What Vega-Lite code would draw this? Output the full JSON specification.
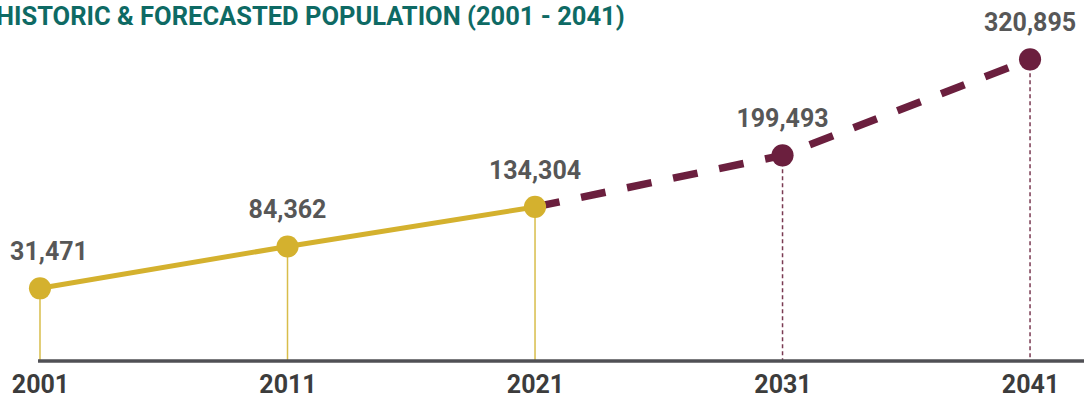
{
  "$schema": "https://vega.github.io/schema/vega-lite/v6.json",
  "autosize": {"type": "none"},
  "padding": {"left": 0, "right": 0, "top": 40, "bottom": 36},
  "width": 1084,
  "height": 321,
  "background": "white",
  "config": {"view": {"stroke": null}, "font": "Roboto"},
  "title": {
    "text": "HISTORIC & FORECASTED POPULATION (2001 - 2041)",
    "anchor": "start",
    "frame": "group",
    "orient": "top",
    "font": "Roboto",
    "fontSize": 25.5,
    "fontWeight": "bold",
    "color": "#0e6a64",
    "baseline": "alphabetic",
    "dx": -4,
    "offset": -39
  },
  "datasets": {
    "points": [
      {"year": 2001, "pop": 31471, "series": "Historic", "label": "31,471"},
      {"year": 2011, "pop": 84362, "series": "Historic", "label": "84,362"},
      {"year": 2021, "pop": 134304, "series": "Historic", "label": "134,304"},
      {"year": 2031, "pop": 199493, "series": "Forecast", "label": "199,493"},
      {"year": 2041, "pop": 320895, "series": "Forecast", "label": "320,895"}
    ],
    "forecastLine": [
      {"year": 2021, "pop": 134304},
      {"year": 2031, "pop": 199493},
      {"year": 2041, "pop": 320895}
    ]
  },
  "layer": [
    {
      "data": {"name": "points"},
      "transform": [{"filter": "datum.series === 'Historic'"}],
      "mark": {"type": "rule", "color": "#d8bd4a", "strokeWidth": 1.5},
      "encoding": {
        "x": {"field": "year", "type": "quantitative", "scale": {"domain": [1999.384, 2043.18], "nice": false, "zero": false}, "axis": {"values": [2001, 2011, 2021, 2031, 2041], "format": "d", "domain": false, "ticks": false, "grid": false, "title": null, "labelFontSize": 25, "labelFontWeight": "bold", "labelColor": "#3c3c3c", "labelFont": "Roboto", "labelPadding": 11}},
        "y": {"field": "pop", "type": "quantitative", "scale": {"domain": [-60413, 345298], "nice": false, "zero": false}, "axis": null},
        "y2": {"datum": -60413}
      }
    },
    {
      "data": {"name": "points"},
      "transform": [{"filter": "datum.series === 'Forecast'"}],
      "mark": {"type": "rule", "color": "#7a3a52", "strokeWidth": 1.5, "strokeDash": [4, 3]},
      "encoding": {
        "x": {"field": "year", "type": "quantitative"},
        "y": {"field": "pop", "type": "quantitative"},
        "y2": {"datum": -60413}
      }
    },
    {
      "data": {"values": [{"start": 2000.92, "end": 2043.18, "base": -60413}]},
      "mark": {"type": "rule", "color": "#505055", "strokeWidth": 3.5},
      "encoding": {
        "x": {"field": "start", "type": "quantitative"},
        "x2": {"field": "end"},
        "y": {"field": "base", "type": "quantitative"}
      }
    },
    {
      "data": {"name": "forecastLine"},
      "mark": {"type": "line", "color": "#6b1f3e", "strokeWidth": 7.5, "strokeDash": [25, 22], "strokeCap": "butt"},
      "encoding": {
        "x": {"field": "year", "type": "quantitative"},
        "y": {"field": "pop", "type": "quantitative"}
      }
    },
    {
      "data": {"name": "points"},
      "transform": [{"filter": "datum.series === 'Historic'"}],
      "mark": {"type": "line", "color": "#d4b12e", "strokeWidth": 5},
      "encoding": {
        "x": {"field": "year", "type": "quantitative"},
        "y": {"field": "pop", "type": "quantitative"}
      }
    },
    {
      "data": {"name": "points"},
      "mark": {"type": "circle", "opacity": 1, "size": 490},
      "encoding": {
        "x": {"field": "year", "type": "quantitative"},
        "y": {"field": "pop", "type": "quantitative"},
        "color": {"field": "series", "type": "nominal", "scale": {"domain": ["Historic", "Forecast"], "range": ["#d4b12e", "#6b1f3e"]}, "legend": null}
      }
    },
    {
      "data": {"name": "points"},
      "transform": [{"filter": "datum.year !== 2001"}],
      "mark": {"type": "text", "font": "Roboto", "fontSize": 25, "fontWeight": "bold", "color": "#575757", "baseline": "alphabetic", "align": "center", "dy": -28},
      "encoding": {
        "x": {"field": "year", "type": "quantitative"},
        "y": {"field": "pop", "type": "quantitative"},
        "text": {"field": "label"}
      }
    },
    {
      "data": {"name": "points"},
      "transform": [{"filter": "datum.year === 2001"}],
      "mark": {"type": "text", "font": "Roboto", "fontSize": 25, "fontWeight": "bold", "color": "#575757", "baseline": "alphabetic", "align": "center", "dy": -28, "dx": 9},
      "encoding": {
        "x": {"field": "year", "type": "quantitative"},
        "y": {"field": "pop", "type": "quantitative"},
        "text": {"field": "label"}
      }
    }
  ]
}
